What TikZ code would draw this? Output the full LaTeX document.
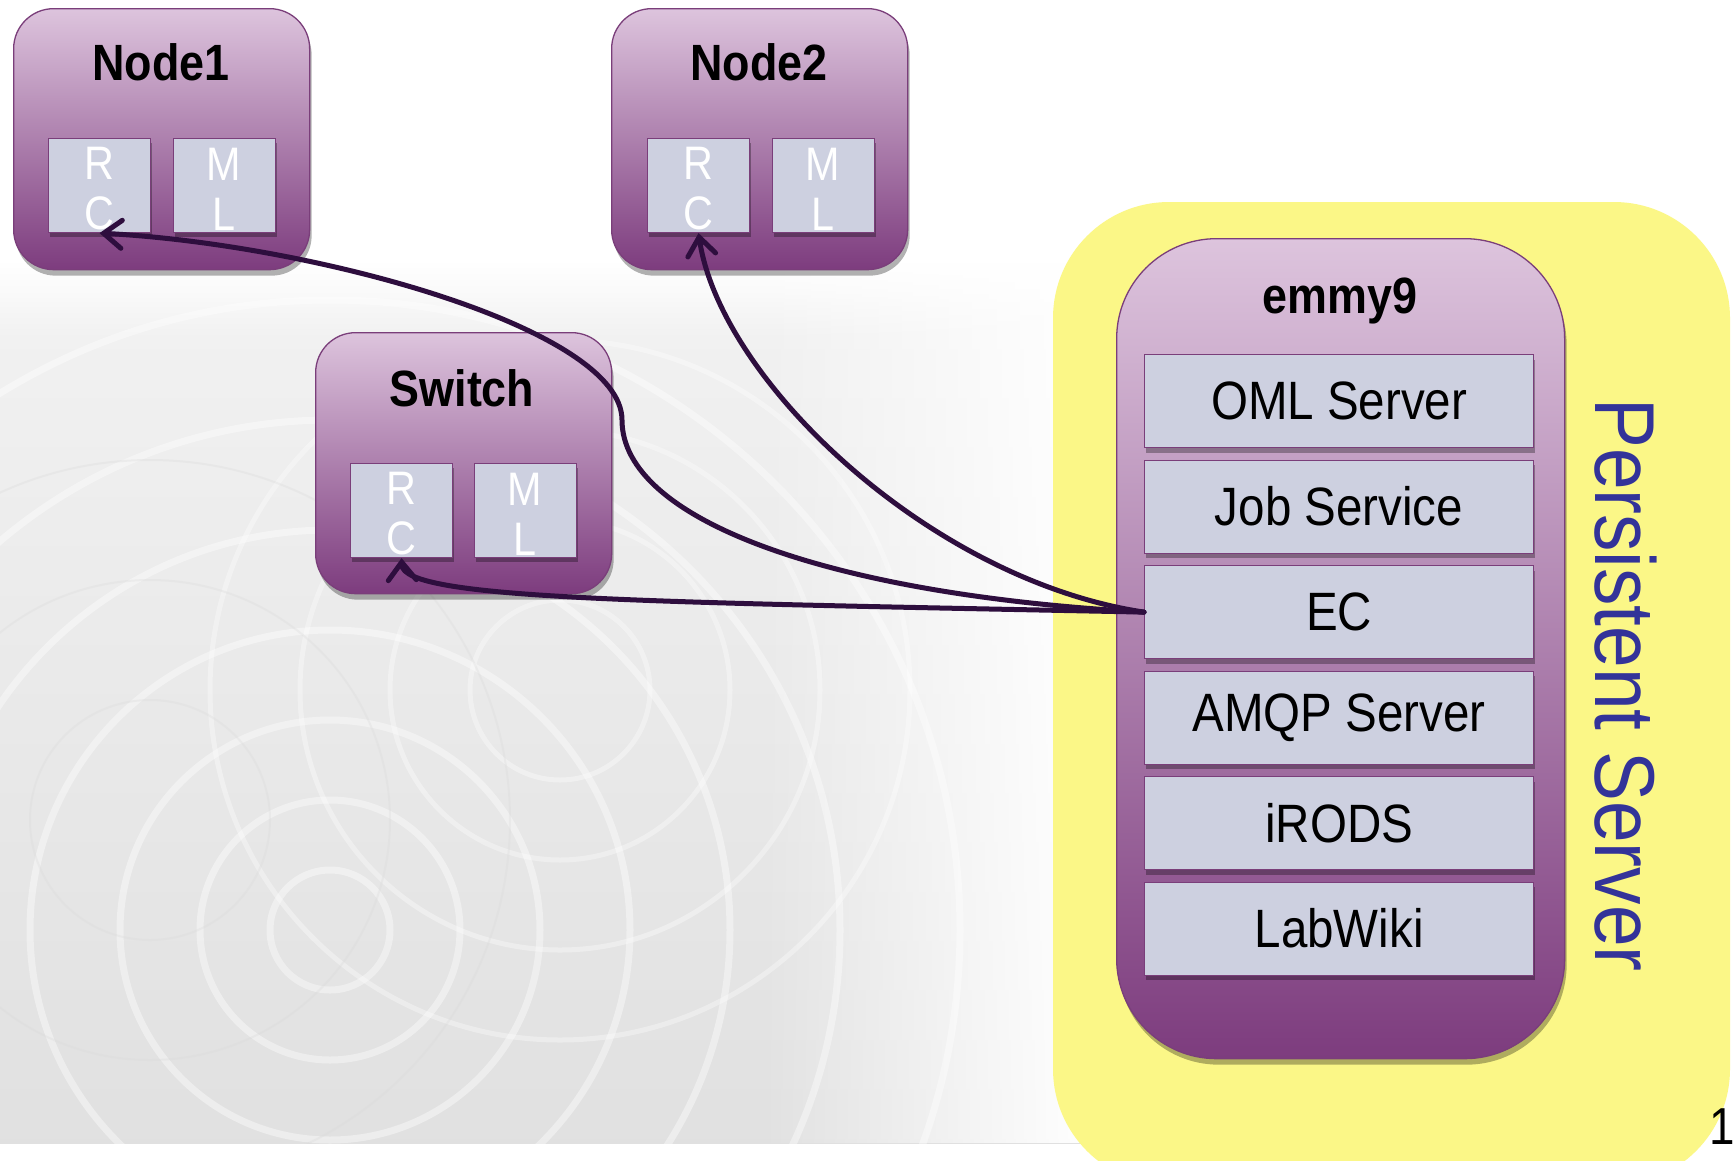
\documentclass[tikz,border=0pt]{standalone}
\usepackage{fontspec}
\setmainfont[FakeStretch=0.88]{Liberation Sans}
\usetikzlibrary{arrows.meta,shadows,fadings}
\definecolor{boxtop}{RGB}{221,196,221}
\definecolor{boxbot}{RGB}{125,60,126}
\definecolor{boxline}{RGB}{122,62,122}
\definecolor{innerc}{RGB}{205,208,224}
\definecolor{ylw}{RGB}{251,247,135}
\definecolor{psblue}{RGB}{51,51,153}
\definecolor{arrowc}{RGB}{46,14,62}
\tikzset{
  hostbox/.style={draw=boxline, line width=1.3pt, top color=boxtop, bottom color=boxbot,
    rounded corners=40pt, minimum width=296pt, minimum height=261pt, anchor=north west,
    inner sep=0pt, drop shadow={shadow xshift=2pt, shadow yshift=-6pt, opacity=0.3, fill=black}},
  compbox/.style={draw=boxline, line width=1.1pt, fill=innerc, minimum width=102pt,
    minimum height=94pt, anchor=north west, inner sep=0pt,
    drop shadow={shadow xshift=1pt, shadow yshift=-4pt, opacity=0.3, fill=black}},
  svcbox/.style={draw=boxline, line width=1.2pt, fill=innerc, minimum width=389pt,
    minimum height=93pt, anchor=north west, inner sep=0pt,
    font=\fontsize{54}{60}\selectfont,
    drop shadow={shadow xshift=1pt, shadow yshift=-5pt, opacity=0.3, fill=black}},
  hosttitle/.style={font=\bfseries\fontsize{51}{58}\selectfont, text=black, inner sep=0pt},
  rctext/.style={text=white, align=center, font=\fontsize{47}{50}\selectfont, inner sep=0pt},
  link/.style={draw=arrowc, line width=5pt, line cap=round, -{Straight Barb[length=18pt,width=28pt,line cap=round]}}
}
\begin{document}
\begin{tikzpicture}[x=1pt,y=-1pt]
\useasboundingbox (0,0) rectangle (1733,1160);
\fill[white] (0,0) rectangle (1733,1160);
% background swirl
\begin{scope}
  \clip (0,262) rectangle (1090,1143);
  \shade[top color=black!5, bottom color=black!12] (0,262) rectangle (1090,1143);
  \foreach \r in {60,130,210,300,400,510,630} \draw[white, line width=7pt, opacity=0.4] (330,930) circle (\r);
  \foreach \r in {90,170,260,350} \draw[white, line width=5pt, opacity=0.35] (560,690) circle (\r);
  \foreach \r in {120,240,360} \draw[black!15, line width=2pt, opacity=0.3] (150,820) circle (\r);
  \fill[white, path fading=west] (760,262) rectangle (1090,1143);
  \fill[white, path fading=south] (0,262) rectangle (1090,340);
\end{scope}

% Persistent server container
\fill[ylw, rounded corners=116pt] (1053,202) rectangle (1730,1185);
\node[rotate=-90, text=psblue, font=\fontsize{85}{95}\selectfont, inner sep=0pt] (pslabel) at (1626,685) {Persistent Server};
\node[font=\fontsize{52}{60}\selectfont, inner sep=0pt] (pagenum) at (1722,1127) {1};

% emmy9
\node[hostbox, rounded corners=100pt, minimum width=448pt, minimum height=820pt] (emmy) at (1116,238) {};
\node[hosttitle] (emmyt) at (1340,301) {emmy9};
\node[svcbox] (oml) at (1144,354) {OML Server};
\node[svcbox] (job) at (1144,459.5) {Job Service};
\node[svcbox] (ec) at (1144,565) {EC};
\node[svcbox] (amqp) at (1144,670.5) {AMQP Server};
\node[svcbox] (irods) at (1144,776) {iRODS};
\node[svcbox] (labwiki) at (1144,881.5) {LabWiki};

% Node1
\node[hostbox] (n1) at (13,8) {};
\node[hosttitle] (n1t) at (161,62) {Node1};
\node[compbox] (n1rc) at (48,138) {};
\node[compbox] (n1ml) at (173,138) {};
\node[rctext] (n1rct) at (99,189) {R\\C};
\node[rctext] (n1mlt) at (224,189) {M\\L};

% Node2
\node[hostbox] (n2) at (611,8) {};
\node[hosttitle] (n2t) at (759,62) {Node2};
\node[compbox] (n2rc) at (647,138) {};
\node[compbox] (n2ml) at (772,138) {};
\node[rctext] (n2rct) at (698,189) {R\\C};
\node[rctext] (n2mlt) at (823,189) {M\\L};

% Switch
\node[hostbox] (sw) at (315,332) {};
\node[hosttitle] (swt) at (462,388) {Switch};
\node[compbox] (swrc) at (350,463) {};
\node[compbox] (swml) at (474,463) {};
\node[rctext] (swrct) at (401,514) {R\\C};
\node[rctext] (swmlt) at (525,514) {M\\L};

% connectors
\draw[link] (ec.west) .. controls (650,602) and (403,600) .. (swrc.south);
\draw[link] (ec.west) .. controls (930,580) and (720,380) .. (n2rc.south);
\coordinate (bend) at (622,420);
\draw[link] (ec.west) .. controls (830,595) and (622,520) .. (bend)
  .. controls (622,330) and (320,245) .. (n1rc.south);
\end{tikzpicture}
\end{document}
